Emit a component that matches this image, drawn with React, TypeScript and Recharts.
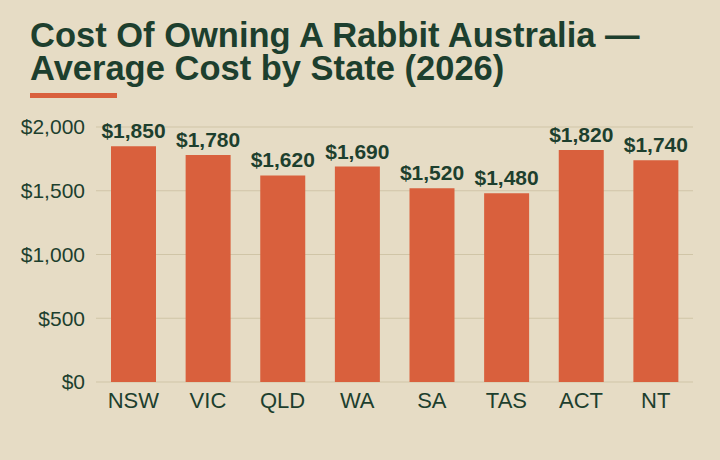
import React from "react";
import { BarChart, Bar, XAxis, YAxis, CartesianGrid, LabelList } from "recharts";

const STATES = ["NSW", "VIC", "QLD", "WA", "SA", "TAS", "ACT", "NT"];
const COSTS = [1850, 1780, 1620, 1690, 1520, 1480, 1820, 1740];
const Y_TICKS = [0, 500, 1000, 1500, 2000];
const TITLE_LINES = ["Cost Of Owning A Rabbit Australia —", "Average Cost by State (2026)"];

const BG = "#e6dcc5";
const INK = "#1d3f2e";
const BAR = "#d9603d";
const GRID = "#d0c5a7";
const FONT = "'Liberation Sans', Arial, sans-serif";

const data = STATES.map((state, i) => ({ state, cost: COSTS[i] }));

const money = (v: number) => `$${v.toLocaleString("en-US")}`;

export default function App() {
    return (
        <div
            style={{
                position: "absolute",
                top: 0,
                left: 0,
                width: 720,
                height: 460,
                background: BG,
                fontFamily: FONT,
                overflow: "hidden",
            }}
        >
            {TITLE_LINES.map((line, i) => (
                <div
                    key={line}
                    style={{
                        position: "absolute",
                        left: 30,
                        top: 19 + i * 33,
                        fontSize: 34.5,
                        lineHeight: "33px",
                        fontWeight: 700,
                        color: INK,
                        whiteSpace: "nowrap",
                    }}
                >
                    {line}
                </div>
            ))}
            <div
                style={{
                    position: "absolute",
                    left: 30,
                    top: 93,
                    width: 87,
                    height: 5,
                    background: BAR,
                }}
            />
            <div style={{ position: "absolute", top: 0, left: 0 }}>
                <BarChart
                    width={720}
                    height={460}
                    data={data}
                    margin={{ top: 127, right: 27, bottom: 0, left: 0 }}
                >
                    <CartesianGrid vertical={false} stroke={GRID} strokeWidth={1} />
                    <XAxis
                        dataKey="state"
                        axisLine={false}
                        tickLine={false}
                        tickSize={0}
                        tickMargin={10}
                        height={78}
                        tick={{ fill: INK, fontSize: 22, fontFamily: FONT }}
                    />
                    <YAxis
                        width={96}
                        domain={[0, 2000]}
                        ticks={Y_TICKS}
                        axisLine={false}
                        tickLine={false}
                        tickSize={0}
                        tickMargin={11}
                        tickFormatter={money}
                        tick={{ fill: INK, fontSize: 21, fontFamily: FONT }}
                    />
                    <Bar dataKey="cost" fill={BAR} barSize={45} isAnimationActive={false}>
                        <LabelList
                            dataKey="cost"
                            position="top"
                            offset={8}
                            formatter={(v: number) => money(v)}
                            style={{ fill: INK, fontSize: 21, fontWeight: 700, fontFamily: FONT }}
                        />
                    </Bar>
                </BarChart>
            </div>
        </div>
    );
}
